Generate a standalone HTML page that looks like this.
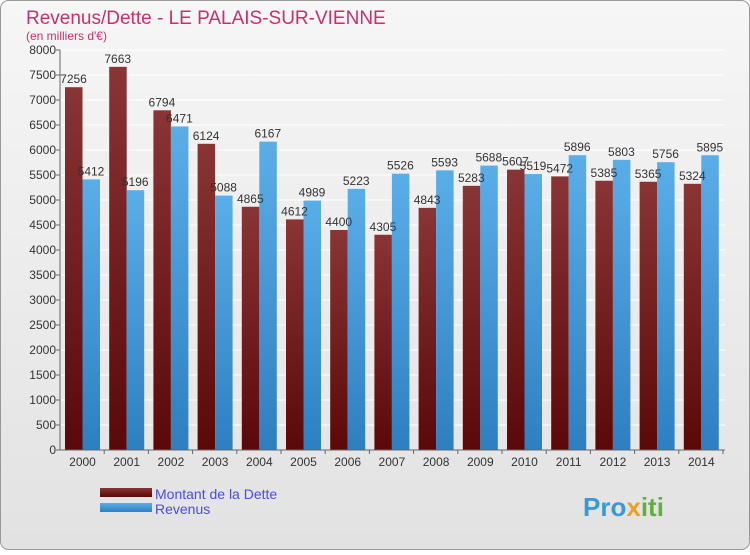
<!DOCTYPE html>
<html><head><meta charset="utf-8"><style>
body{margin:0;width:750px;height:550px;overflow:hidden;font-family:"Liberation Sans",sans-serif}
</style></head><body>
<svg width="750" height="550" xmlns="http://www.w3.org/2000/svg">
<defs>
<linearGradient id="bg" x1="0" y1="0" x2="0" y2="1"><stop offset="0" stop-color="#f6f6f6"/><stop offset="1" stop-color="#e2e2e2"/></linearGradient>
<linearGradient id="red" x1="0" y1="0" x2="0" y2="1"><stop offset="0" stop-color="#8a3535"/><stop offset="1" stop-color="#5a0808"/></linearGradient>
<linearGradient id="blue" x1="0" y1="0" x2="0" y2="1"><stop offset="0" stop-color="#5aaee8"/><stop offset="1" stop-color="#2e7fc0"/></linearGradient>
</defs>
<rect x="0.5" y="0.5" width="749" height="549" rx="8" fill="url(#bg)" stroke="#999"/>
<text x="26" y="24" font-size="19" fill="#c8306a">Revenus/Dette - LE PALAIS-SUR-VIENNE</text>
<text x="26" y="40" font-size="12" fill="#c8306a">(en milliers d'€)</text>
<g id="grid"></g><g id="bars"></g><g id="axes"></g>
<rect x="100" y="488" width="52" height="9" fill="url(#red)"/>
<rect x="100" y="503" width="52" height="9" fill="url(#blue)"/>
<text x="155" y="499" font-size="14" fill="#4a4ae8">Montant de la Dette</text>
<text x="155" y="514" font-size="14" fill="#4a4ae8">Revenus</text>
<text x="583" y="516" font-size="26" font-weight="bold" fill="#3a9ad8">Pro<tspan fill="#f0a020">x</tspan><tspan fill="#60b040">iti</tspan></text>
</svg>
<script>
const years=["2000","2001","2002","2003","2004","2005","2006","2007","2008","2009","2010","2011","2012","2013","2014"];
const dette=[7256,7663,6794,6124,4865,4612,4400,4305,4843,5283,5607,5472,5385,5365,5324];
const revenus=[5412,5196,6471,5088,6167,4989,5223,5526,5593,5688,5519,5896,5803,5756,5895];
const ticks=[0,500,1000,1500,2000,2500,3000,3500,4000,4500,5000,5500,6000,6500,7000,7500,8000];
const NS="http://www.w3.org/2000/svg";
const y=v=>450-v*0.05, gx=i=>60+44.2*i;
function mk(t,a,p){const e=document.createElementNS(NS,t);for(const k in a)e.setAttribute(k,a[k]);p.appendChild(e);return e;}
const G=document.getElementById('grid'),B=document.getElementById('bars'),A=document.getElementById('axes');
ticks.forEach(t=>{
 const l=mk('line',{x1:60,x2:725,y1:y(t),y2:y(t),stroke:'#fff','stroke-width':1},G);
 
 
 const tx=mk('text',{x:56,y:y(t)+4,'font-size':12,'text-anchor':'end',fill:'#333'},A);tx.textContent=t;
 
 
 const tk=mk('line',{x1:56,x2:60,y1:y(t),y2:y(t),stroke:'#666'},A);
 
 
});
years.forEach((yr,i)=>{
 const s=gx(i);
 const r1=mk('rect',{x:s+5,y:y(dette[i]),width:17.5,height:450-y(dette[i]),fill:'url(#red)'},B);
 
 
 const r2=mk('rect',{x:s+22.5,y:y(revenus[i]),width:17.5,height:450-y(revenus[i]),fill:'url(#blue)'},B);
 
 
 const t1=mk('text',{x:s+13.5,y:y(dette[i])-4,'font-size':12,'text-anchor':'middle',fill:'#333'},B);t1.textContent=dette[i];
 
 
 const t2=mk('text',{x:s+31,y:y(revenus[i])-4,'font-size':12,'text-anchor':'middle',fill:'#333'},B);t2.textContent=revenus[i];
 
 
 const xl=mk('text',{x:s+22.5,y:466,'font-size':12,'text-anchor':'middle',fill:'#333'},A);xl.textContent=yr;
 
 
 const xt=mk('line',{x1:s+44.2,x2:s+44.2,y1:450,y2:454,stroke:'#666'},A);
 
 
});
const ax=mk('line',{x1:60,x2:60,y1:50,y2:450,stroke:'#666'},A);


const bx=mk('line',{x1:60,x2:725,y1:450,y2:450,stroke:'#666'},A);


</script>
</body></html>
